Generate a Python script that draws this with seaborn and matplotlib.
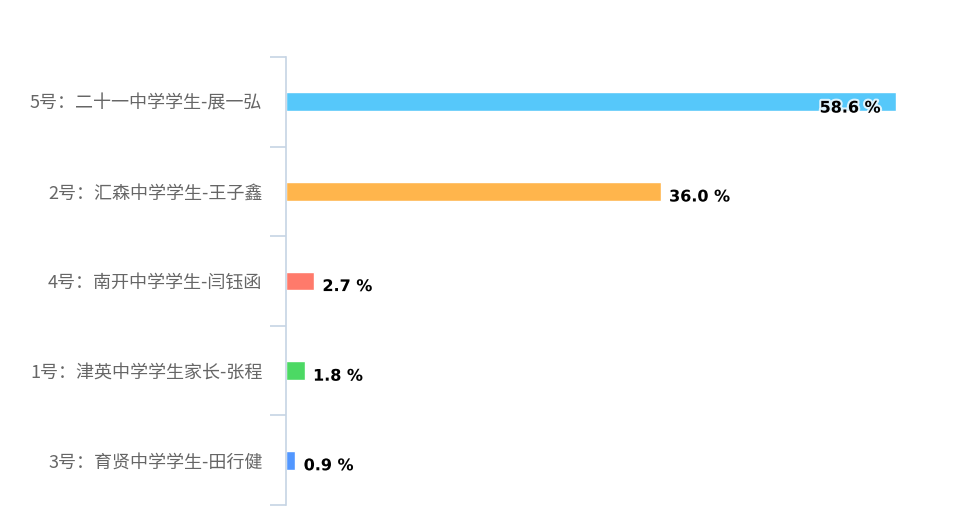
import matplotlib
matplotlib.use("Agg")
import matplotlib.pyplot as plt
import matplotlib.patheffects as pe
import seaborn as sns

# Data
candidates = [
    "5号：二十一中学学生-展一弘",
    "2号：汇森中学学生-王子鑫",
    "4号：南开中学学生-闫钰函",
    "1号：津英中学学生家长-张程",
    "3号：育贤中学学生-田行健",
]
percent = [58.6, 36.0, 2.7, 1.8, 0.9]
bar_colors = ["#56C8FA", "#FFB54C", "#FF7A6B", "#4CD964", "#5297FF"]

sns.set_style("white")
plt.rcParams["font.family"] = ["Noto Sans CJK SC", "DejaVu Sans"]

fig = plt.figure(figsize=(9.6, 5.28), dpi=100)
ax = fig.add_axes([286 / 960, 23 / 528, 650 / 960, 448 / 528])

sns.barplot(
    x=percent, y=candidates, hue=candidates, palette=bar_colors,
    legend=False, width=0.21, saturation=1, orient="h", ax=ax,
)

ax.set_xlim(0, 650 / 10.41)
ax.set_ylim(4.5, -0.5)
for side in ["top", "right", "bottom"]:
    ax.spines[side].set_visible(False)
ax.spines["left"].set_color("#C6D4E4")
ax.spines["left"].set_linewidth(1.2)
ax.set_xticks([])
ax.set_xlabel("")
ax.set_ylabel("")

# category separators as minor ticks, labels on major ticks
ax.set_yticks([i - 0.5 for i in range(len(candidates) + 1)], minor=True)
ax.tick_params(axis="y", which="minor", length=11.5, width=1.2, color="#C6D4E4", left=True)
ax.tick_params(axis="y", which="major", length=0, pad=17, labelsize=13, labelcolor="#666666")

# value labels
glow = [pe.withStroke(linewidth=3, foreground="white", alpha=0.8)]
for i, v in enumerate(percent):
    if v > 55:
        ax.annotate(f"{v:.1f} %", xy=(v, i), xytext=(-11, -4.5), textcoords="offset points",
                    ha="right", va="center", fontsize=11.5, fontweight="bold",
                    family="DejaVu Sans", color="#000000", path_effects=glow)
    else:
        ax.annotate(f"{v:.1f} %", xy=(v, i), xytext=(6, -4), textcoords="offset points",
                    ha="left", va="center", fontsize=11.5, fontweight="bold",
                    family="DejaVu Sans", color="#000000", path_effects=glow)

fig.savefig("out.png", dpi=100)
